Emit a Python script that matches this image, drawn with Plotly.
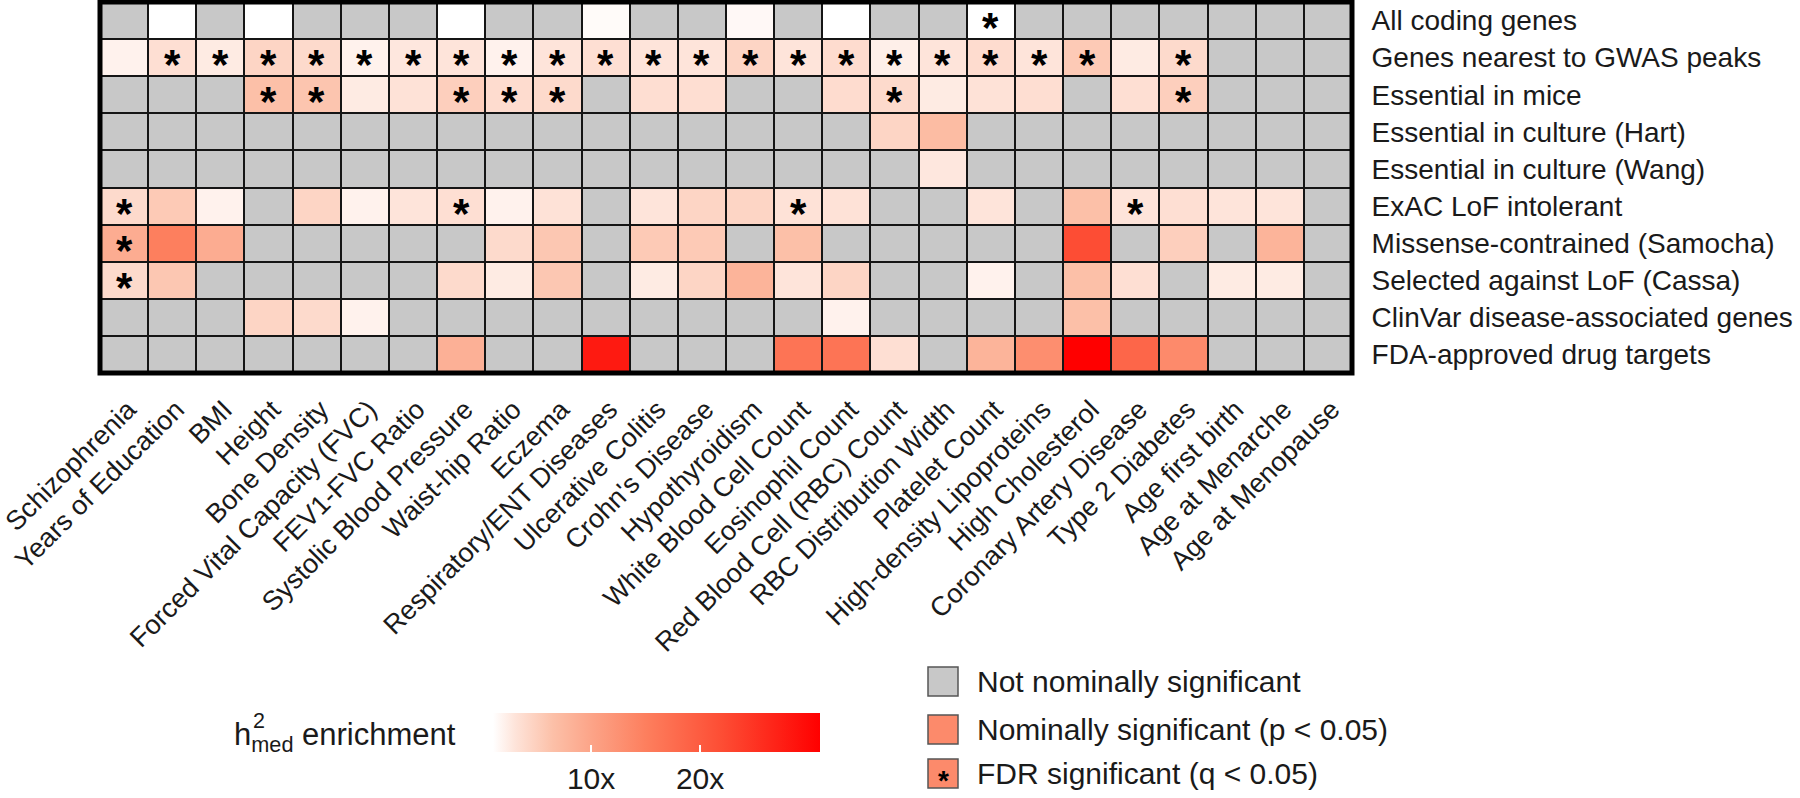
import plotly.graph_objects as go

# ---------------- data ----------------
traits = [
    "Schizophrenia", "Years of Education", "BMI", "Height", "Bone Density",
    "Forced Vital Capacity (FVC)", "FEV1-FVC Ratio", "Systolic Blood Pressure",
    "Waist-hip Ratio", "Eczema", "Respiratory/ENT Diseases", "Ulcerative Colitis",
    "Crohn's Disease", "Hypothyroidism", "White Blood Cell Count", "Eosinophil Count",
    "Red Blood Cell (RBC) Count", "RBC Distribution Width", "Platelet Count",
    "High-density Lipoproteins", "High Cholesterol", "Coronary Artery Disease",
    "Type 2 Diabetes", "Age first birth", "Age at Menarche", "Age at Menopause",
]

gene_sets = [
    "All coding genes",
    "Genes nearest to GWAS peaks",
    "Essential in mice",
    "Essential in culture (Hart)",
    "Essential in culture (Wang)",
    "ExAC LoF intolerant",
    "Missense-contrained (Samocha)",
    "Selected against LoF (Cassa)",
    "ClinVar disease-associated genes",
    "FDA-approved drug targets",
]

N = None
# h2med enrichment for nominally significant cells (None = not nominally significant)
enr_all_coding = [N, 1.0, N, 1.0, N, N, N, 1.0, N, N, 1.3, N, N, 1.5, N, 1.0, N, N, 1.0, N, N, N, N, N, N, N]
enr_gwas       = [2.0, 3.5, 2.5, 4.5, 4.0, 2.0, 2.8, 3.0, 2.0, 3.0, 3.5, 3.0, 3.0, 4.5, 3.0, 3.8, 2.2, 3.0, 3.8, 3.0, 5.5, 2.5, 4.0, N, N, N]
enr_mice       = [N, N, N, 6.5, 6.0, 2.5, 3.2, 5.0, 3.8, 4.0, N, 3.6, 3.6, N, N, 3.8, 4.0, 2.5, 3.2, 3.6, N, 3.5, 5.0, N, N, N]
enr_hart       = [N, N, N, N, N, N, N, N, N, N, N, N, N, N, N, N, 4.5, 7.0, N, N, N, N, N, N, N, N]
enr_wang       = [N, N, N, N, N, N, N, N, N, N, N, N, N, N, N, N, N, 2.8, N, N, N, N, N, N, N, N]
enr_exac       = [4.0, 5.5, 2.0, N, 4.5, 2.0, 3.0, 3.5, 2.0, 3.2, N, 3.0, 4.5, 4.5, 3.2, 3.2, N, N, 3.0, N, 6.5, 3.0, 3.5, 3.0, 3.0, N]
enr_samocha    = [9.0, 15.0, 9.0, N, N, N, N, N, 4.0, 5.8, N, 5.5, 5.5, N, 6.5, N, N, N, N, N, 22.0, N, 5.0, N, 8.0, N]
enr_cassa      = [4.0, 5.8, N, N, N, N, N, 4.0, 2.5, 5.8, N, 2.5, 4.5, 8.0, 3.0, 4.5, N, N, 2.0, N, 6.5, 3.5, N, 2.5, 2.5, N]
enr_clinvar    = [N, N, N, 4.5, 4.0, 2.0, N, N, N, N, N, N, N, N, N, 2.0, N, N, N, N, 6.5, N, N, N, N, N]
enr_fda        = [N, N, N, N, N, N, N, 8.5, N, N, 28.0, N, N, N, 16.5, 16.5, 3.5, N, 8.0, 13.0, 31.0, 18.5, 13.5, N, N, N]

enrichment = [enr_all_coding, enr_gwas, enr_mice, enr_hart, enr_wang,
              enr_exac, enr_samocha, enr_cassa, enr_clinvar, enr_fda]

# FDR significant (q < 0.05) flags
fdr_all_coding = [0]*18 + [1] + [0]*7
fdr_gwas       = [0] + [1]*20 + [0, 1, 0, 0, 0]
fdr_mice       = [0, 0, 0, 1, 1, 0, 0, 1, 1, 1, 0, 0, 0, 0, 0, 0, 1, 0, 0, 0, 0, 0, 1, 0, 0, 0]
fdr_hart       = [0]*26
fdr_wang       = [0]*26
fdr_exac       = [1, 0, 0, 0, 0, 0, 0, 1, 0, 0, 0, 0, 0, 0, 1, 0, 0, 0, 0, 0, 0, 1, 0, 0, 0, 0]
fdr_samocha    = [1] + [0]*25
fdr_cassa      = [1] + [0]*25
fdr_clinvar    = [0]*26
fdr_fda        = [0]*26

fdr = [fdr_all_coding, fdr_gwas, fdr_mice, fdr_hart, fdr_wang,
       fdr_exac, fdr_samocha, fdr_cassa, fdr_clinvar, fdr_fda]

colorbar_ticks = [10, 20]
colorbar_ticktext = ["10x", "20x"]
legend_labels = ["Not nominally significant", "Nominally significant (p < 0.05)", "FDR significant (q < 0.05)"]

# ---------------- style ----------------
FONT = "Liberation Sans, Arial, Helvetica, sans-serif"
GREY = "#c8c8c8"
SALMON = "#fc8a6b"
TXT = "#1a1a1a"
W, H = 1800, 798
L, R, T, B = 100, 448, 2, 425
PW, PH = W - L - R, H - T - B

def px(x):
    return (x - L) / PW

def py(y):
    return (H - B - y) / PH

colorscale = [
    [0.0, "#ffffff"], [0.067, "#fee4da"], [0.183, "#fcc0a8"], [0.3, "#fca488"],
    [0.467, "#fd7f5e"], [0.7, "#fd4d34"], [1.0, "#ff0000"],
]

fig = go.Figure()

fig.add_trace(go.Heatmap(
    x=traits, y=gene_sets, z=[[0] * len(traits) for _ in gene_sets],
    colorscale=[[0, GREY], [1, GREY]], showscale=False, xgap=2, ygap=2,
    hoverinfo="skip",
))

fig.add_trace(go.Heatmap(
    x=traits, y=gene_sets, z=enrichment, zmin=1, zmax=31,
    colorscale=colorscale, xgap=2, ygap=2, hoverongaps=False,
    colorbar=dict(
        orientation="h", xref="paper", yref="paper",
        x=px(493), xanchor="left", y=py(713), yanchor="top",
        len=327, lenmode="pixels", thickness=39, outlinewidth=0,
        xpad=0, ypad=0,
        tickvals=colorbar_ticks, ticktext=colorbar_ticktext,
        tickfont=dict(family=FONT, size=30, color=TXT),
        ticks="inside", ticklen=7, tickwidth=2, tickcolor="white",
    ),
))

annotations = []
for i, row in enumerate(fdr):
    for j, flag in enumerate(row):
        if flag:
            annotations.append(dict(
                x=traits[j], y=gene_sets[i], xref="x", yref="y", text="<b>*</b>",
                showarrow=False, yshift=-7,
                font=dict(family=FONT, size=42, color="black"),
            ))

# colour bar title
annotations.append(dict(
    x=px(232), y=py(737), xref="paper", yref="paper", xanchor="left", yanchor="middle",
    text="h<sub>med</sub> enrichment", showarrow=False,
    font=dict(family=FONT, size=31, color=TXT),
))
annotations.append(dict(
    x=px(251), y=py(721), xref="paper", yref="paper", xanchor="left", yanchor="middle",
    text="2", showarrow=False, font=dict(family=FONT, size=21.5, color=TXT),
))

shapes = [dict(type="rect", xref="paper", yref="paper", x0=0, x1=1, y0=0, y1=1,
               line=dict(color="black", width=5), fillcolor="rgba(0,0,0,0)")]

legend_fill = [GREY, SALMON, SALMON]
legend_y = [681.5, 729.5, 773.5]
for lab, col, yc, k in zip(legend_labels, legend_fill, legend_y, range(3)):
    shapes.append(dict(type="rect", xref="paper", yref="paper",
                       x0=px(928), x1=px(958), y0=py(yc + 14.5), y1=py(yc - 14.5),
                       fillcolor=col, line=dict(color="#555555", width=1.5)))
    annotations.append(dict(x=px(975), y=py(yc), xref="paper", yref="paper",
                            xanchor="left", yanchor="middle", text=lab, showarrow=False,
                            font=dict(family=FONT, size=30, color=TXT)))
    if k == 2:
        annotations.append(dict(x=px(943), y=py(yc), xref="paper", yref="paper",
                                xanchor="center", yanchor="middle", text="<b>*</b>",
                                showarrow=False, yshift=-7,
                                font=dict(family=FONT, size=28, color="black")))

fig.update_layout(
    width=W, height=H, margin=dict(l=L, r=R, t=T, b=B, autoexpand=False),
    paper_bgcolor="white", plot_bgcolor="#151515",
    font=dict(family=FONT, color=TXT),
    annotations=annotations, shapes=shapes, showlegend=False,
)
fig.update_xaxes(type="category", tickangle=-45, tickfont=dict(size=27, color=TXT),
                 range=[-0.5, len(traits) - 0.5], automargin=False,
                 ticks="outside", ticklen=9, tickcolor="rgba(0,0,0,0)",
                 ticklabelshift=4,
                 showgrid=False, zeroline=False, showline=False, fixedrange=True)
fig.update_yaxes(type="category", range=[len(gene_sets) - 0.5, -0.5], side="right",
                 automargin=False, tickfont=dict(size=28, color=TXT),
                 ticks="outside", ticklen=13, tickcolor="rgba(0,0,0,0)",
                 showgrid=False, zeroline=False, showline=False, fixedrange=True)

fig.write_html("out.html", post_script="document.body.style.margin='0';",
               config={"displayModeBar": False})
